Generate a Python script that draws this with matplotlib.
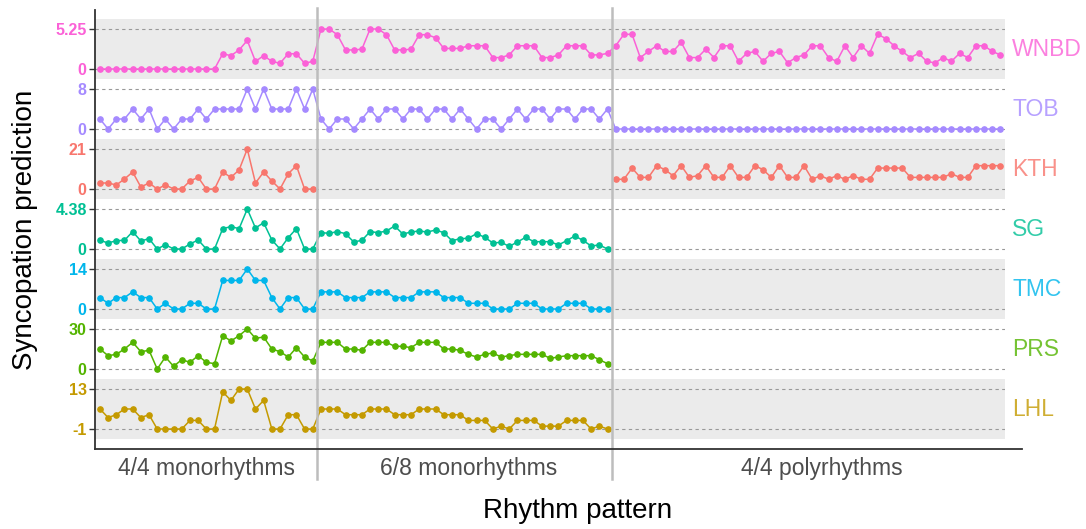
import numpy as np
import matplotlib
matplotlib.use("Agg")
import matplotlib.pyplot as plt

plt.rcParams['font.family'] = ['Liberation Sans', 'DejaVu Sans']

# rhythm groups: 27 monorhythms in 4/4, 36 in 6/8, 48 polyrhythms
group_names = ['4/4 monorhythms', '6/8 monorhythms', '4/4 polyrhythms']
group_sizes = [27, 36, 48]

# values, one list per group
wnbd_g1 = [0]*15 + [2, 1.75, 2.5, 3.75, 1, 1.75, 1, 0.75, 2, 2, 0.75, 1]
wnbd_g2 = [5.25, 5.25, 4.5, 2.5, 2.5, 2.6, 5.25, 5.25, 4.5, 2.5, 2.5, 2.6,
           4.5, 4.5, 4.1, 2.7, 2.7, 2.7, 3.05, 3.05, 3.05, 1.5, 1.5, 1.85,
           3.05, 3.05, 3.05, 1.5, 1.5, 1.85, 3.05, 3.05, 3.05, 1.85, 1.85, 2.05]
wnbd_g3 = [3.05, 4.55, 4.55, 1.5, 2.3, 3.05, 2.3, 2.3, 3.5, 1.5, 1.5, 2.6,
           1.5, 3.05, 3.05, 1.0, 2.05, 2.3, 1.0, 2.05, 2.3, 0.8, 1.5, 1.85,
           3.05, 3.05, 1.5, 1.0, 3.05, 1.5, 3.05, 2.05, 4.55, 4.0, 3.05, 2.3,
           1.5, 2.05, 1.0, 0.8, 1.5, 1.0, 2.05, 1.5, 3.05, 3.05, 2.3, 1.85]

tob_g1 = [2, 0, 2, 2, 4, 2, 4, 0, 2, 0, 2, 2, 4, 2, 4, 4, 4, 4, 8, 4, 8, 4, 4, 4, 8, 4, 8]
tob_g2 = [2, 0, 2, 2, 0, 2, 4, 2, 4, 4, 2, 4, 4, 2, 4, 4, 2, 4,
          2, 0, 2, 2, 0, 2, 4, 2, 4, 4, 2, 4, 4, 2, 4, 4, 2, 4]
tob_g3 = [0]*48

kth_g1 = [3.15, 3.15, 2.1, 5.25, 8.9, 1.05, 3.15, 0, 2.1, 0, 0, 4.2, 6.1, 0, 0,
          8.9, 6.1, 10, 21, 3.15, 8.9, 4.2, 0, 8, 12.25, 0, 0]
kth_g2 = [np.nan]*36
kth_g3 = [5.1, 5.1, 11, 6.1, 6.1, 12.25, 10.15, 7, 12.25, 6.1, 7, 12.25,
          6.1, 6.1, 12.25, 6.1, 6.1, 12.25, 10.15, 6.1, 12.25, 6.1, 6.1, 12.25,
          5.1, 7, 5.1, 7, 5.1, 7, 5.1, 5.1, 11, 11, 11, 11,
          6.1, 6.1, 6.1, 6.1, 6.1, 8.05, 6.1, 6.1, 12.25, 12.25, 12.25, 12.25]

sg_g1 = [0.95, 0.66, 0.91, 0.95, 1.9, 0.88, 1.13, 0, 0.47, 0, 0, 0.55, 0.99, 0, 0,
         2.23, 2.45, 2.23, 4.38, 2.3, 2.88, 0.99, 0, 1.24, 2.23, 0, 0]
sg_g2 = [1.79, 1.72, 1.9, 1.68, 0.77, 0.95, 1.9, 1.79, 1.97, 2.52, 1.64, 1.86,
         1.97, 1.86, 2.08, 1.79, 0.91, 1.13, 1.17, 1.68, 1.28, 0.66, 0.73, 0.29,
         0.77, 1.28, 0.8, 0.8, 0.8, 0.44, 0.91, 1.42, 0.95, 0.33, 0.44, 0]

tmc_g1 = [4, 2, 4, 4, 6, 4, 4, 0, 2, 0, 0, 2, 2, 0, 0, 10, 10, 10, 14, 10, 10, 4, 0, 4, 4, 0, 0]
tmc_g2 = [6, 6, 6, 4, 4, 4, 6, 6, 6, 4, 4, 4, 6, 6, 6, 4, 4, 4,
          2, 2, 2, 0, 0, 0, 2, 2, 2, 0, 0, 0, 2, 2, 2, 0, 0, 0]

prs_g1 = [15, 10, 11, 15, 20, 13, 14, 0, 9, 2, 7, 5, 10, 5, 4,
          25, 21, 25, 30, 23, 24, 15, 13, 9, 16, 9, 6]
prs_g2 = [20, 20, 20, 15, 15, 14, 20, 20, 20, 17, 17, 16, 20, 20, 20, 15, 15, 14,
          11, 9, 11, 12, 9, 10, 11, 11, 11, 11, 8, 9, 10, 10, 10, 10, 7, 4]

lhl_g1 = [6, 3, 4, 6, 6, 3, 4, -1, -1, -1, -1, 2, 2, -1, -1, 12, 9, 13, 13, 6, 9, -1, -1, 4, 4, -1, -1]
lhl_g2 = [6, 6, 6, 4, 4, 4, 6, 6, 6, 4, 4, 4, 6, 6, 6, 4, 4, 4,
          2, 2, 2, -1, 0, -1, 2, 2, 2, 0, 0, 0, 2, 2, 2, -1, 0, -1]

empty_g3 = [np.nan]*48

measures = ['WNBD', 'TOB', 'KTH', 'SG', 'TMC', 'PRS', 'LHL']
series = {
    'WNBD': wnbd_g1 + wnbd_g2 + wnbd_g3,
    'TOB': tob_g1 + tob_g2 + tob_g3,
    'KTH': kth_g1 + kth_g2 + kth_g3,
    'SG': sg_g1 + sg_g2 + empty_g3,
    'TMC': tmc_g1 + tmc_g2 + empty_g3,
    'PRS': prs_g1 + prs_g2 + empty_g3,
    'LHL': lhl_g1 + lhl_g2 + empty_g3,
}
y_ticks = {'WNBD': [0, 5.25], 'TOB': [0, 8], 'KTH': [0, 21], 'SG': [0, 4.38],
           'TMC': [0, 14], 'PRS': [0, 30], 'LHL': [-1, 13]}
colors = {'KTH': '#F8766D', 'LHL': '#C49A00', 'PRS': '#53B400', 'SG': '#00C094',
          'TMC': '#00B6EB', 'TOB': '#A58AFF', 'WNBD': '#FB61D7'}

W, H = 1086, 529
def box(x0, y0, x1, y1):
    return [x0 / W, 1 - y1 / H, (x1 - x0) / W, (y1 - y0) / H]

fig = plt.figure(figsize=(W / 100, H / 100), dpi=100)

n = sum(group_sizes)
x = np.arange(n)
px_per_unit = 910 / 111.15
xlo = -0.6
bounds = np.cumsum(group_sizes)[:-1] - 0.5
starts = np.concatenate([[0], np.cumsum(group_sizes)[:-1]])
centers = [13, 45, 88.2]

for i, m in enumerate(measures):
    top = 19 + 60 * i
    ax = fig.add_axes(box(95, top, 1005, top + 60))
    lo, hi = y_ticks[m]
    r = hi - lo
    ax.set_ylim(lo - 0.25 * r, hi + 0.25 * r)
    ax.set_xlim(xlo, xlo + 910 / px_per_unit)
    ax.set_facecolor('#EBEBEB' if i % 2 == 0 else 'none')
    for s in ax.spines.values():
        s.set_visible(False)
    ax.set_xticks([])
    ax.set_yticks(y_ticks[m])
    ax.set_yticklabels([('%g' % v) for v in y_ticks[m]], color=colors[m],
                       fontweight='bold', fontsize=11.5)
    ax.tick_params(axis='y', length=4, width=1, color='#333333', pad=2)
    ax.grid(axis='y', linestyle=(0, (3, 3)), color='#999999', linewidth=0.8)
    ax.set_axisbelow(True)
    ax.plot(x, series[m], '-o', color=colors[m], lw=1.1, ms=3.8)
    ax.text(1.008, 0.5, m, transform=ax.transAxes, color=colors[m], alpha=0.8,
            fontsize=16.5, ha='left', va='center')

# frame axes on top: left/bottom lines, group separators, group labels
main = fig.add_axes(box(95, 10, 1022, 449))
main.set_facecolor('none')
main.set_xlim(xlo, xlo + 927 / px_per_unit)
main.set_ylim(0, 1)
for side in ['top', 'right']:
    main.spines[side].set_visible(False)
for side in ['left', 'bottom']:
    main.spines[side].set_linewidth(1.3)
    main.spines[side].set_color('#333333')
main.set_xticks([])
main.set_yticks([])
for b in bounds:
    main.axvline(b, ymin=-0.068, ymax=1.005, color='#BDBDBD', lw=1.8,
                 clip_on=False)
for c, name in zip(centers, group_names):
    main.text(c, -0.018, name, ha='center', va='top', fontsize=16.5,
              color='#4D4D4D', transform=main.get_xaxis_transform())

fig.text(578 / W, 1 - 498 / H, 'Rhythm pattern', ha='center', va='top', fontsize=20)
fig.text(25 / W, 1 - 230 / H, 'Syncopation prediction', ha='center', va='center',
         rotation=90, fontsize=20)

fig.savefig('out.png', dpi=100)
